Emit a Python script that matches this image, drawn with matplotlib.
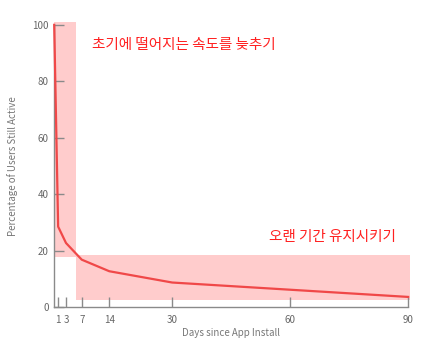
import matplotlib
matplotlib.use("Agg")
import matplotlib.pyplot as plt
from matplotlib.patches import Rectangle

days = [0, 1, 3, 7, 14, 30, 90]
active_pct = [100, 28.5, 22.7, 16.8, 12.7, 8.7, 3.6]
xticks = [1, 3, 7, 14, 30, 60, 90]
yticks = [0, 20, 40, 60, 80, 100]
label_early = "초기에 떨어지는 속도를 늦추기"
label_long = "오랜 기간 유지시키기"

plt.rcParams['font.family'] = ['Noto Sans CJK KR', 'DejaVu Sans']

fig = plt.figure(figsize=(4.48, 3.6), dpi=100)
ax = fig.add_axes([0.121, 0.147, 0.790, 0.784])

gray = '#8a8a8a'
ax.add_patch(Rectangle((0, 17.8), 5.5, 83.2, facecolor='#ffcccc', edgecolor='none', zorder=1, clip_on=False))
ax.add_patch(Rectangle((5.5, 2.5), 85, 16, facecolor='#ffcccc', edgecolor='none', zorder=1, clip_on=False))

ax.plot(days, active_pct, color='#f04848', lw=1.6, zorder=6, clip_on=False)

ax.set_xlim(0, 90)
ax.set_ylim(0, 100)
ax.set_xticks(xticks)
ax.set_yticks(yticks)
for s in ['top', 'right']:
    ax.spines[s].set_visible(False)
for s in ['left', 'bottom']:
    ax.spines[s].set_color(gray)
    ax.spines[s].set_linewidth(1.0)
    ax.spines[s].set_zorder(4)
ax.tick_params(direction='in', length=7, width=1, colors=gray, labelsize=7, pad=6)
ax.tick_params(axis='y', pad=4)
for t in ax.get_xticklabels() + ax.get_yticklabels():
    t.set_color('#666666')

ax.set_xlabel('Days since App Install', fontsize=7, color='#777777', labelpad=2)
ax.set_ylabel('Percentage of Users Still Active', fontsize=7, color='#777777', labelpad=10)

ax.text(9.5, 93, label_early, color='#ff2020', fontsize=10.5, va='center', ha='left', zorder=5)
ax.text(54.5, 25, label_long, color='#ff2020', fontsize=10.5, va='center', ha='left', zorder=5)

fig.savefig('out.png', dpi=100)
